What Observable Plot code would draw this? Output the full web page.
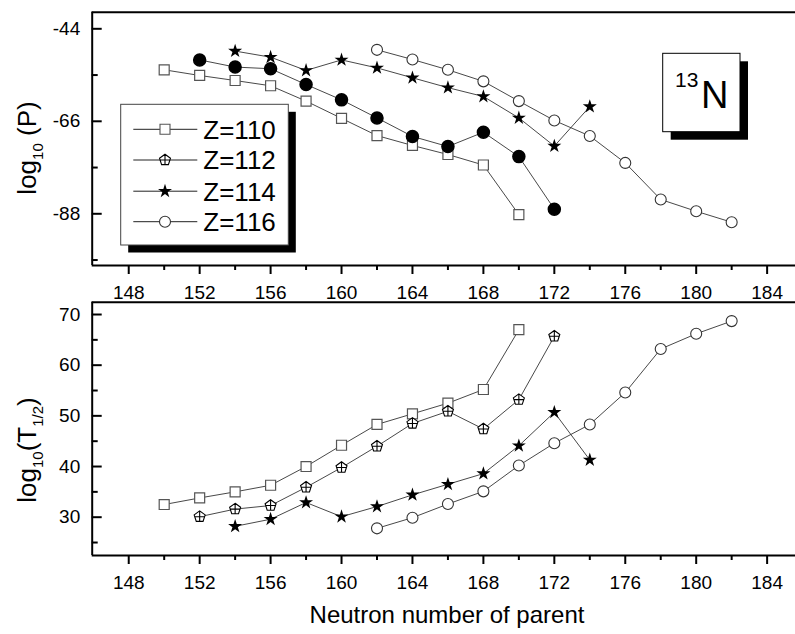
<!DOCTYPE html>
<html><head><meta charset="utf-8">
<script src="https://cdn.jsdelivr.net/npm/d3@7"></script>
<script src="https://cdn.jsdelivr.net/npm/@observablehq/plot@0.6"></script>
<style>
body{margin:0;background:#fff;}
#wrap{position:relative;width:795px;height:634px;overflow:hidden;font-family:"Liberation Sans",Arial,sans-serif;}
#wrap svg{position:absolute;left:0;}
</style></head><body><div id="wrap"></div>
<script>
// ---- data ----
const N110 = [150,152,154,156,158,160,162,164,166,168,170];
const N112 = [152,154,156,158,160,162,164,166,168,170,172];
const N114 = [154,156,158,160,162,164,166,168,170,172,174];
const N116 = [162,164,166,168,170,172,174,176,178,180,182];
// log10(P)
const P110 = [-53.75,-55.1,-56.3,-57.55,-61.2,-65.3,-69.4,-71.75,-73.9,-76.4,-88.2];
const P112 = [-51.4,-53.1,-53.5,-57.25,-60.9,-65.2,-69.6,-72.0,-68.6,-74.4,-86.9];
const P114 = [-49.3,-50.75,-53.9,-51.4,-53.3,-55.65,-58.0,-60.1,-65.2,-71.9,-62.5];
const P116 = [-49.0,-51.3,-53.75,-56.5,-61.2,-65.8,-69.5,-75.9,-84.6,-87.4,-90.0];
// log10(T1/2)
const T110 = [32.5,33.8,35.0,36.3,40.0,44.2,48.3,50.4,52.5,55.2,67.0];
const T112 = [30.1,31.6,32.3,35.9,39.8,44.0,48.5,50.9,47.4,53.2,65.7];
const T114 = [28.2,29.6,32.9,30.1,32.1,34.4,36.5,38.6,44.1,50.7,41.3];
const T116 = [27.8,29.9,32.6,35.1,40.2,44.6,48.3,54.6,63.2,66.2,68.7];
const seriesNames = ["Z=110","Z=112","Z=114","Z=116"];
// ticks
const xMajor = [148,152,156,160,164,168,172,176,180,184];
const xMinor = [150,154,158,162,166,170,174,178,182];
const pMajor = [-44,-66,-88];
const pMinor = [-55,-77,-99];
const tMajor = [30,40,50,60,70];
const tMinor = [25,35,45,55,65];
const xDomain = [145.94, 185.6];
const pDomain = [-100.3, -40.05];
const tDomain = [22.44, 72.43];

const rows = (ns, vs) => ns.map((n, i) => ({n, v: vs[i]}));

const pentaCross = {
  draw(ctx, size) {
    const R = Math.sqrt(size / Math.PI) * 1.05;
    for (let k = 0; k < 5; k++) {
      const a = (-90 + 72 * k) * Math.PI / 180;
      if (k === 0) ctx.moveTo(R * Math.cos(a), R * Math.sin(a));
      else ctx.lineTo(R * Math.cos(a), R * Math.sin(a));
    }
    ctx.closePath();
    ctx.moveTo(0, -R); ctx.lineTo(0, 0.809 * R);
    ctx.moveTo(-0.851 * R, 0); ctx.lineTo(0.851 * R, 0);
  }
};

const FONT = "Liberation Sans, Arial, sans-serif";
const baseStyle = {fontFamily: FONT, fontSize: "19px", background: "transparent", overflow: "visible", color: "black"};
const lineOpts = {x: "n", y: "v", stroke: "#333", strokeWidth: 0.9};
const STAR_R = 4.4;

function frameMarks(yDom, yMaj, yMin) {
  return [
    Plot.ruleY([yDom[1]], {strokeWidth: 2}),
    Plot.ruleY([yDom[0]], {strokeWidth: 2}),
    Plot.ruleX([xDomain[0]], {strokeWidth: 2}),
    Plot.axisX(xMajor, {tickSize: 9, tickPadding: 11, strokeWidth: 2, fontSize: 19, tickFormat: d => String(d), label: null}),
    Plot.axisX(xMinor, {tickSize: 5, strokeWidth: 2, tickFormat: () => "", label: null}),
    Plot.axisY(yMaj, {tickSize: -10, tickPadding: 22, strokeWidth: 2, fontSize: 19, tickFormat: d => String(d), label: null}),
    Plot.axisY(yMin, {tickSize: -6, strokeWidth: 2, tickFormat: () => "", label: null})
  ];
}

const topChart = Plot.plot({
  width: 795, height: 300,
  marginLeft: 91.7, marginRight: 0, marginTop: 11.7, marginBottom: 35,
  x: {domain: xDomain, label: null},
  y: {domain: pDomain, label: null},
  style: baseStyle,
  marks: [
    Plot.line(rows(N110, P110), lineOpts),
    Plot.line(rows(N112, P112), lineOpts),
    Plot.line(rows(N114, P114), lineOpts),
    Plot.line(rows(N116, P116), lineOpts),
    Plot.dot(rows(N110, P110), {x: "n", y: "v", symbol: "square", r: 5.64, fill: "white", stroke: "#555", strokeWidth: 1.2}),
    Plot.dot(rows(N112, P112), {x: "n", y: "v", symbol: "circle", r: 6, fill: "black", stroke: "black"}),
    Plot.dot(rows(N114, P114), {x: "n", y: "v", symbol: "star", r: STAR_R, fill: "black", stroke: "none"}),
    Plot.dot(rows(N116, P116), {x: "n", y: "v", symbol: "circle", r: 5.5, fill: "white", stroke: "#333", strokeWidth: 1.1}),
    ...frameMarks(pDomain, pMajor, pMinor)
  ]
});

const bottomChart = Plot.plot({
  width: 795, height: 344,
  marginLeft: 91.7, marginRight: 0, marginTop: 11.7, marginBottom: 79,
  x: {domain: xDomain, label: null},
  y: {domain: tDomain, label: null},
  style: baseStyle,
  marks: [
    Plot.line(rows(N110, T110), lineOpts),
    Plot.line(rows(N112, T112), lineOpts),
    Plot.line(rows(N114, T114), lineOpts),
    Plot.line(rows(N116, T116), lineOpts),
    Plot.dot(rows(N110, T110), {x: "n", y: "v", symbol: "square", r: 5.64, fill: "white", stroke: "#555", strokeWidth: 1.2}),
    Plot.dot(rows(N112, T112), {x: "n", y: "v", symbol: pentaCross, r: 5.5, fill: "white", stroke: "black", strokeWidth: 1.1}),
    Plot.dot(rows(N114, T114), {x: "n", y: "v", symbol: "star", r: STAR_R, fill: "black", stroke: "none"}),
    Plot.dot(rows(N116, T116), {x: "n", y: "v", symbol: "circle", r: 5.5, fill: "white", stroke: "#333", strokeWidth: 1.1}),
    ...frameMarks(tDomain, tMajor, tMinor)
  ]
});

const wrap = document.getElementById("wrap");
topChart.style.top = "0px";
bottomChart.style.top = "290px";
wrap.appendChild(topChart);
wrap.appendChild(bottomChart);

// ---- annotations ----
const st = d3.select(topChart);
// legend
const lg = st.append("g");
lg.append("rect").attr("x", 128.2).attr("y", 111.8).attr("width", 167.6).attr("height", 140.7).attr("fill", "black");
lg.append("rect").attr("x", 120.7).attr("y", 104.3).attr("width", 167.6).attr("height", 140.7)
  .attr("fill", "white").attr("stroke", "#444").attr("stroke-width", 1);
const legendSyms = [
  {type: d3.symbolSquare, size: 5.64 * 5.64 * Math.PI, fill: "white", stroke: "#555"},
  {type: pentaCross, size: 5.5 * 5.5 * Math.PI, fill: "white", stroke: "black"},
  {type: d3.symbolStar, size: STAR_R * STAR_R * Math.PI, fill: "black", stroke: "none"},
  {type: d3.symbolCircle, size: 5.5 * 5.5 * Math.PI, fill: "white", stroke: "#333"}
];
const legendY = [129.3, 160, 191.2, 221.7];
seriesNames.forEach((name, i) => {
  const cy = legendY[i];
  lg.append("line").attr("x1", 133.3).attr("x2", 197.3).attr("y1", cy).attr("y2", cy).attr("stroke", "#222").attr("stroke-width", 1);
  const s = legendSyms[i];
  lg.append("path").attr("d", d3.symbol(s.type, s.size)()).attr("transform", `translate(165,${cy})`)
    .attr("fill", s.fill).attr("stroke", s.stroke).attr("stroke-width", 1.1);
  lg.append("text").attr("x", 203.3).attr("y", cy + 9.3).attr("font-size", 26).attr("text-anchor", "start")
    .attr("font-family", FONT).attr("fill", "black").text(name);
});
// 13N box
const nb = st.append("g");
nb.append("rect").attr("x", 670.7).attr("y", 61.3).attr("width", 77.3).attr("height", 78.4).attr("fill", "black");
nb.append("rect").attr("x", 662.7).attr("y", 53.3).attr("width", 77.3).attr("height", 78.4).attr("fill", "white").attr("stroke", "black").attr("stroke-width", 1);
const nt = nb.append("text").attr("font-family", FONT).attr("fill", "black").attr("text-anchor", "start");
nt.append("tspan").attr("x", 675).attr("y", 86.7).attr("font-size", 21).text("13");
nt.append("tspan").attr("x", 701).attr("y", 108.3).attr("font-size", 38).text("N");
// y labels
const yl1 = st.append("text").attr("transform", "translate(36,148) rotate(-90)").attr("text-anchor", "middle")
  .attr("font-family", FONT).attr("font-size", 26).attr("fill", "black");
yl1.append("tspan").text("log");
yl1.append("tspan").attr("font-size", 15).attr("dy", 7).text("10");
yl1.append("tspan").attr("dy", -7).text(" (P)");

const sb = d3.select(bottomChart);
const yl2 = sb.append("text").attr("transform", "translate(36,160) rotate(-90)").attr("text-anchor", "middle")
  .attr("font-family", FONT).attr("font-size", 26).attr("fill", "black");
yl2.append("tspan").text("log");
yl2.append("tspan").attr("font-size", 15).attr("dy", 7).text("10");
yl2.append("tspan").attr("dy", -7).text("(T");
yl2.append("tspan").attr("font-size", 15).attr("dy", 7).text("1/2");
yl2.append("tspan").attr("dy", -7).text(")");
sb.append("text").attr("x", 447).attr("y", 333).attr("text-anchor", "middle").attr("font-family", FONT)
  .attr("font-size", 24).attr("fill", "black").text("Neutron number of parent");
</script></body></html>
